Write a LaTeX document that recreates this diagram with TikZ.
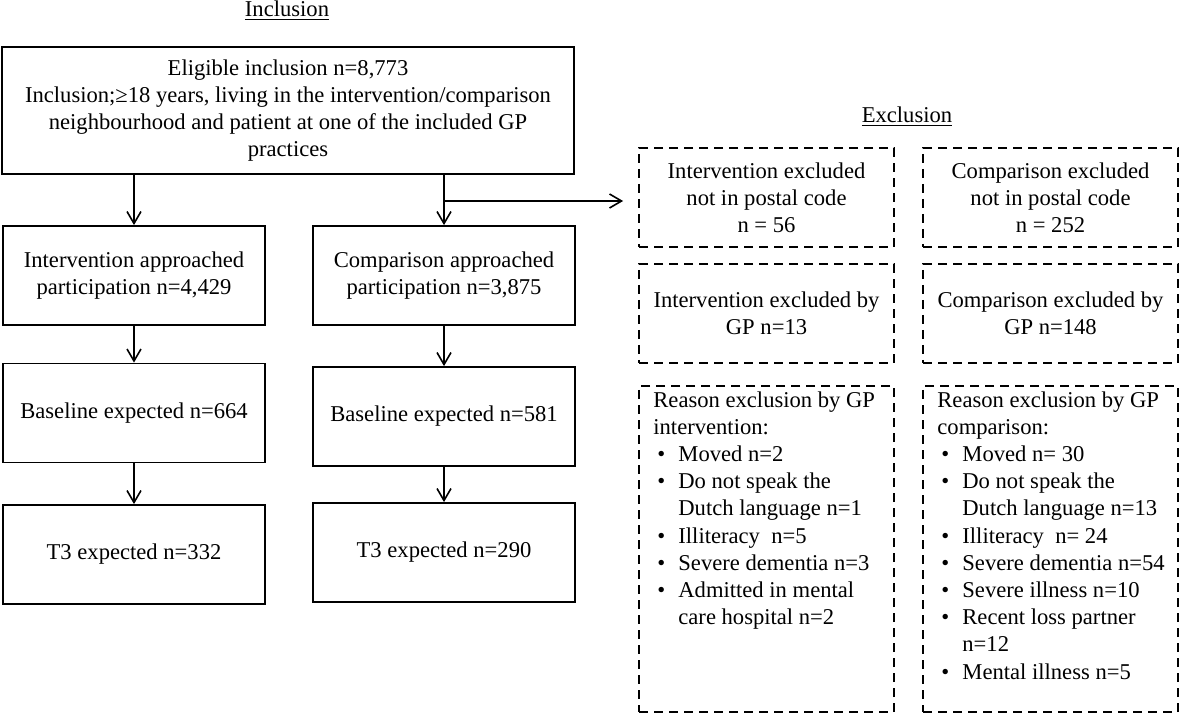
\documentclass[tikz,border=0pt]{standalone}
\usepackage{fontspec}
\setmainfont{Liberation Serif}
\usetikzlibrary{arrows.meta,calc}
\newcommand\bul[1]{\makebox[12.5pt][l]{\hspace{2pt}\textbullet}#1}
\newcommand\ind[1]{\hspace*{12.5pt}#1}
\begin{document}
\begin{tikzpicture}[x=0.5pt,y=-0.5pt,
  every node/.style={font=\fontsize{11.3}{13.6}\selectfont, inner sep=0pt},
  sbox/.style={draw, line width=0.9pt, align=center, minimum width=131pt, minimum height=49.5pt},
  topbox/.style={draw, line width=0.9pt, align=center, minimum width=286pt, minimum height=63.5pt},
  dbox/.style={draw, line width=0.9pt, dash pattern=on 4.5pt off 3pt, align=center, minimum width=127.5pt, minimum height=49.5pt},
  listtext/.style={align=left, anchor=north west},
  arr/.style={line width=0.8pt, -{Straight Barb[length=6pt,width=7pt,line width=0.8pt]}},
  ttl/.style={}]
\useasboundingbox (0,0) rectangle (1181,715);
\node[ttl] (incl) at (287,11) {\underline{Inclusion}};
\node[ttl] (excl) at (907,117) {\underline{Exclusion}};
\node[topbox] (top) at (288,110.5) {Eligible inclusion n=8,773\\Inclusion;≥18 years, living in the intervention/comparison\\neighbourhood and patient at one of the included GP\\practices};
\node[sbox] (intA) at (134,275.5) {Intervention approached\\participation n=4,429};
\node[sbox] (baseA) at (134,413) {Baseline expected n=664};
\node[sbox] (tA) at (134,554.5) {T3 expected n=332};
\node[sbox] (intB) at (444,275.5) {Comparison approached\\participation n=3,875};
\node[sbox] (baseB) at (444,416.5) {Baseline expected n=581};
\node[sbox] (tB) at (444,552.5) {T3 expected n=290};
\node[dbox] (r1a) at (766.5,197.5) {Intervention excluded\\not in postal code\\n = 56};
\node[dbox] (r1b) at (1050.5,197.5) {Comparison excluded\\not in postal code\\n = 252};
\node[dbox] (r2a) at (766.5,313.5) {Intervention excluded by\\GP n=13};
\node[dbox] (r2b) at (1050.5,313.5) {Comparison excluded by\\GP n=148};
\node[dbox, minimum height=163pt] (r3a) at (766.5,549) {};
\node[dbox, minimum height=163pt] (r3b) at (1050.5,549) {};
\node[listtext] (r3at) at (653,391) {Reason exclusion by GP\\intervention:\\\bul{Moved n=2}\\\bul{Do not speak the}\\\ind{Dutch language n=1}\\\bul{Illiteracy\ \ n=5}\\\bul{Severe dementia n=3}\\\bul{Admitted in mental}\\\ind{care hospital n=2}};
\node[listtext] (r3bt) at (937,391) {Reason exclusion by GP\\comparison:\\\bul{Moved n= 30}\\\bul{Do not speak the}\\\ind{Dutch language n=13}\\\bul{Illiteracy\ \ n= 24}\\\bul{Severe dementia n=54}\\\bul{Severe illness\ n=10}\\\bul{Recent loss partner}\\\ind{n=12}\\\bul{Mental illness\ n=5}};
\draw[arr] (top.south -| intA.north) -- (intA.north);
\draw[arr] (intA) -- (baseA);
\draw[arr] (baseA) -- (tA);
\draw[arr] (top.south -| intB.north) -- (intB.north);
\draw[arr] (intB) -- (baseB);
\draw[arr] (baseB) -- (tB);
\coordinate (br) at ($(intB.north |- top.south)!0.52!(intB.north)$);
\draw[arr, shorten >=7.5pt] (br) -- (br -| r1a.west);
\end{tikzpicture}
\end{document}
